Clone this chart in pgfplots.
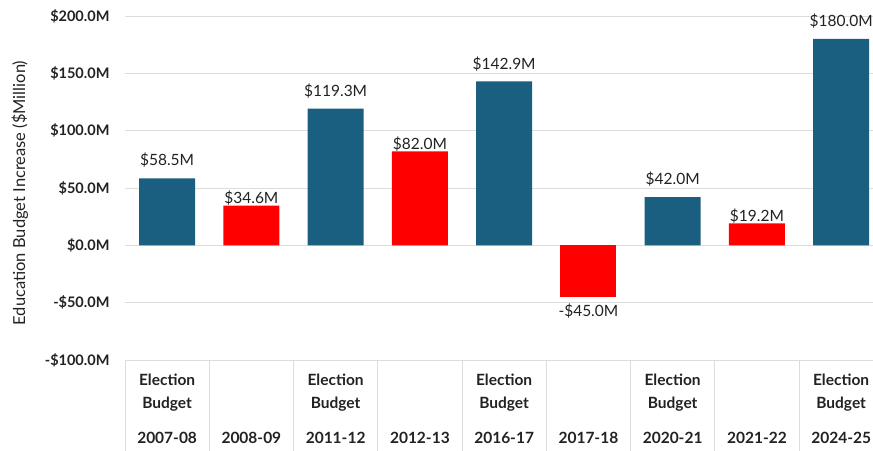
\documentclass[border=0pt]{standalone}
\usepackage{fontspec}
\setmainfont{Lato}
\usepackage{pgfplots}
\pgfplotsset{compat=1.18}

\definecolor{barblue}{RGB}{26,94,128}
\definecolor{barred}{RGB}{255,0,0}
\definecolor{gridgray}{RGB}{220,220,220}
\definecolor{txt}{RGB}{34,34,34}

% two-line category labels
\newcommand{\eb}[1]{Election\\Budget\\[12pt]#1}
\newcommand{\nb}[1]{\phantom{Election}\\\phantom{Budget}\\[12pt]#1}

\begin{document}
\begin{tikzpicture}
\begin{axis}[
  name=ax,
  scale only axis,
  width=748pt, height=344pt,
  xmin=-0.5, xmax=8.378,
  ymin=-100, ymax=200,
  ybar,
  axis line style={draw=none},
  ytick={-100,-50,...,200},
  yticklabels={-\$100.0M,-\$50.0M,\$0.0M,\$50.0M,\$100.0M,\$150.0M,\$200.0M},
  yticklabel style={font=\fontsize{14.5}{16}\selectfont\bfseries, text=txt, xshift=-12pt},
  ytick style={draw=none},
  ymajorgrids,
  grid style={gridgray, line width=0.8pt},
  xtick pos=bottom,
  xtick={0,...,8},
  xticklabels={\eb{2007-08},\nb{2008-09},\eb{2011-12},\nb{2012-13},\eb{2016-17},\nb{2017-18},\eb{2020-21},\nb{2021-22},\eb{2024-25}},
  xticklabel style={font=\fontsize{15.5}{23}\selectfont\bfseries, text=txt, align=center, anchor=north, yshift=-10.5pt},
  minor xtick={-0.5,0.5,...,7.5},
  tick align=outside,
  major tick length=0pt,
  minor tick length=92pt,
  major x tick style={draw=none},
  minor x tick style={draw=gridgray, line width=0.8pt},
  ylabel={Education Budget Increase (\$Million)},
  ylabel style={at={(axis description cs:-0.1404,0.4855)}, anchor=center, font=\fontsize{16.5}{18}\selectfont, text=txt},
  nodes near coords,
  point meta=explicit symbolic,
  every node near coord/.append style={font=\fontsize{15.5}{17}\selectfont, text=txt},
]
\addplot[bar shift=0pt, bar width=56pt, fill=barblue, draw=none,
  every node near coord/.append style={anchor=south, yshift=7pt}]
  coordinates {(0,58.5)[\$58.5M] (2,119.3)[\$119.3M] (4,142.9)[\$142.9M] (6,42.0)[\$42.0M] (8,180.0)[\$180.0M]};
\addplot[bar shift=0pt, bar width=56pt, fill=barred, draw=none,
  every node near coord/.append style={anchor=south, yshift=-3.7pt}]
  coordinates {(1,34.6)[\$34.6M] (3,82.0)[\$82.0M] (7,19.2)[\$19.2M]};
\addplot[bar shift=0pt, bar width=56pt, fill=barred, draw=none,
  every node near coord/.append style={anchor=north, yshift=-3.5pt}]
  coordinates {(5,-45.0)[-\$45.0M]};
\end{axis}
\coordinate (bl) at ([xshift=-125pt,yshift=-90pt]ax.south west);
\coordinate (tr) at ([xshift=748pt,yshift=360pt]ax.south west);
\pgfresetboundingbox
\useasboundingbox (bl) rectangle (tr);
\end{tikzpicture}
\end{document}
